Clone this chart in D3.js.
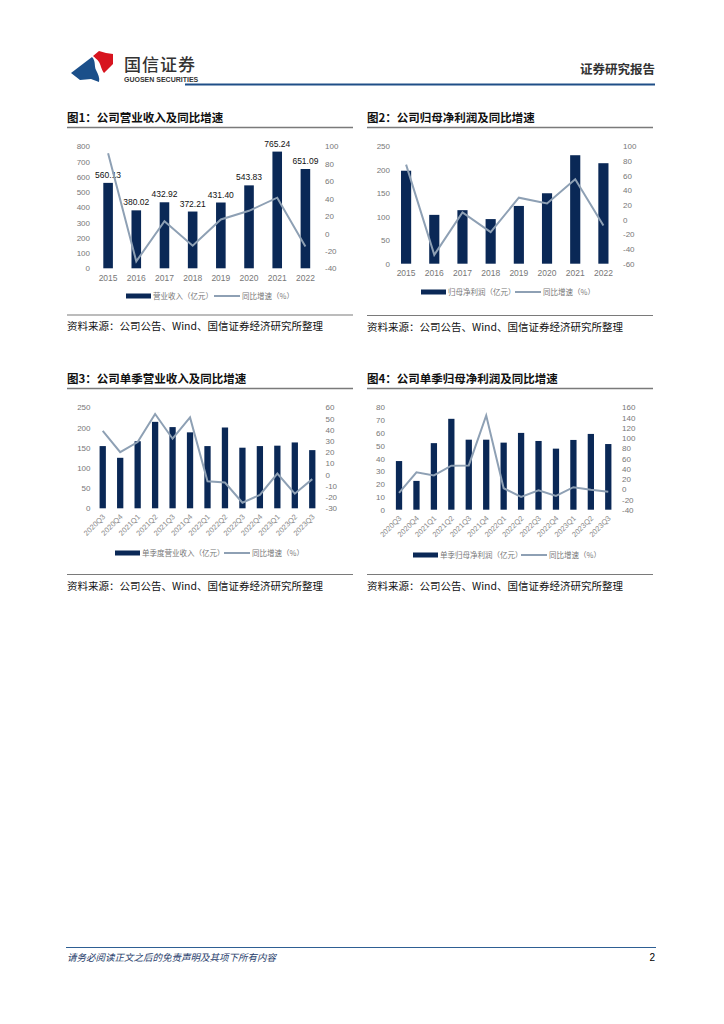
<!DOCTYPE html>
<html><head><meta charset="utf-8">
<script src="https://cdn.jsdelivr.net/npm/d3@7"></script>
<style>
html,body{margin:0;padding:0;background:#fff;}
svg{display:block;}
</style></head>
<body>
<svg id="page" width="724" height="1024"></svg>
<script>
// ---------- data ----------
const years = ['2015','2016','2017','2018','2019','2020','2021','2022'];
const revenue = [560.13, 380.02, 432.92, 372.21, 431.40, 543.83, 765.24, 651.09];
const revenueGrowth = [92, -32, 14, -14, 16, 26, 41, -15];
const profit = [198, 104, 114, 95, 123, 150, 231, 214];
const profitGrowth = [75, -48, 10, -17, 30, 22, 55, -8];
const quarters = ['2020Q3','2020Q4','2021Q1','2021Q2','2021Q3','2021Q4','2022Q1','2022Q2','2022Q3','2022Q4','2023Q1','2023Q2','2023Q3'];
const qRevenue = [154, 125, 166, 214, 201, 188, 154, 200, 150, 154, 155, 163, 144];
const qRevenueGrowth = [39, 20, 29, 54, 32, 51, -6, -7, -25, -18, 1, -17, -4];
const qProfit = [38, 22.5, 52, 71, 54.7, 54.7, 52.4, 60, 53.7, 47.7, 54.5, 59.2, 51.3];
const qProfitGrowth = [-7, 33, 27, 46, 46.5, 144, 2, -15, -2, -13, 4, -1, -5];

const leftTicks1 = [0,100,200,300,400,500,600,700,800];
const rightTicks1 = [-40,-20,0,20,40,60,80,100];
const leftTicks2 = [0,50,100,150,200,250];
const rightTicks2 = [-60,-40,-20,0,20,40,60,80,100];
const leftTicks3 = [0,50,100,150,200,250];
const rightTicks3 = [-30,-20,-10,0,10,20,30,40,50,60];
const leftTicks4 = [0,10,20,30,40,50,60,70,80];
const rightTicks4 = [-40,-20,0,20,40,60,80,100,120,140,160];

const titles = ['图1：公司营业收入及同比增速','图2：公司归母净利润及同比增速','图3：公司单季营业收入及同比增速','图4：公司单季归母净利润及同比增速'];
const barNames = ['营业收入（亿元）','归母净利润（亿元）','单季度营业收入（亿元）','单季归母净利润（亿元）'];
const lineName = '同比增速（%）';
const sourceText = '资料来源：公司公告、Wind、国信证券经济研究所整理';

// ---------- style ----------
const NAVY = '#0a2856';
const LINEC = '#8ea0b4';
const AXC = '#777777';
const CJK = "'Noto Sans CJK SC','Noto Sans',sans-serif";
const LAT = "'Liberation Sans',Arial,sans-serif";

const svg = d3.select('#page');

// ---------- header ----------
const hdr = svg.append('g');
hdr.append('path').attr('d','M71,73 L92,57 C96,61 94,66 96,70 C98,74 100,78 99,82 L91,79 L80,80 Z').attr('fill','#1b4f8a');
hdr.append('path').attr('d','M93,56 L99,51 L106,53 L113,54 L113,64 L104,73 C101,69 101,65 99,62 C97,59 95,58 93,56 Z').attr('fill','#d7141f');
hdr.append('text').attr('x',124).attr('y',71).attr('font-family',CJK).attr('font-size',17).attr('font-weight',500).attr('fill','#333').attr('letter-spacing',1).text('国信证券');
hdr.append('text').attr('x',124).attr('y',82).attr('font-family',LAT).attr('font-size',7).attr('font-weight','bold').attr('fill','#333').text('GUOSEN SECURITIES');
hdr.append('line').attr('x1',185).attr('x2',655).attr('y1',84.5).attr('y2',84.5).attr('stroke','#1f4e87').attr('stroke-width',2);
hdr.append('text').attr('x',655).attr('y',74).attr('text-anchor','end').attr('font-family',CJK).attr('font-size',12.5).attr('font-weight','bold').attr('fill','#333').text('证券研究报告');

// ---------- footer ----------
svg.append('line').attr('x1',66).attr('x2',656).attr('y1',947.5).attr('y2',947.5).attr('stroke','#2e5f93').attr('stroke-width',1);
svg.append('text').attr('x',67).attr('y',961).attr('font-family',CJK).attr('font-size',9.5).attr('font-style','italic').attr('fill','#1f3d6b').text('请务必阅读正文之后的免责声明及其项下所有内容');
svg.append('text').attr('x',655).attr('y',961).attr('text-anchor','end').attr('font-family',LAT).attr('font-size',10).attr('fill','#000').text('2');

const fmt = d => String(d);

// ---------- chart function ----------
function drawChart(o){
  const g = svg.append('g');
  g.append('text').attr('x',o.panelX).attr('y',o.titleY).attr('font-family',CJK).attr('font-size',11.5).attr('font-weight','bold').attr('fill','#111').text(o.title);
  g.append('line').attr('x1',o.panelX).attr('x2',o.panelX+286).attr('y1',o.titleY+5.5).attr('y2',o.titleY+5.5).attr('stroke','#7a7a7a').attr('stroke-width',1.3);

  const x = d3.scaleBand().domain(o.cats).range([o.x0,o.x1]).paddingInner(o.pad).paddingOuter(o.pad/2);
  const yL = d3.scaleLinear().domain(d3.extent(o.lTicks)).range([o.yB,o.yT]);
  const yR = d3.scaleLinear().domain(d3.extent(o.rTicks)).range([o.yB,o.yT]);

  const la = g.append('g').attr('transform',`translate(${o.lx},0)`)
    .call(d3.axisLeft(yL).tickValues(o.lTicks).tickFormat(fmt).tickSize(0).tickPadding(0));
  la.select('.domain').remove();
  la.selectAll('text').attr('font-family',LAT).attr('font-size',8).attr('fill',AXC);
  const ra = g.append('g').attr('transform',`translate(${o.rx},0)`)
    .call(d3.axisRight(yR).tickValues(o.rTicks).tickFormat(fmt).tickSize(0).tickPadding(0));
  ra.select('.domain').remove();
  ra.selectAll('text').attr('font-family',LAT).attr('font-size',8).attr('fill',AXC);

  g.selectAll('rect.bar').data(o.bars).join('rect').attr('class','bar')
    .attr('x',(d,i)=>x(o.cats[i])).attr('width',x.bandwidth())
    .attr('y',d=>yL(d)).attr('height',d=>o.yB-yL(d)).attr('fill',NAVY);

  if(o.showValues){
    g.selectAll('text.val').data(o.bars).join('text').attr('class','val')
      .attr('x',(d,i)=>x(o.cats[i])+x.bandwidth()/2).attr('y',d=>yL(d)-5)
      .attr('text-anchor','middle').attr('font-family',LAT).attr('font-size',8.5).attr('fill','#111')
      .text(d=>d.toFixed(2));
  }

  const line = d3.line().x((d,i)=>x(o.cats[i])+x.bandwidth()/2).y(d=>yR(d));
  g.append('path').datum(o.line).attr('d',line).attr('fill','none').attr('stroke',LINEC).attr('stroke-width',2).attr('stroke-linejoin','miter');

  const xa = g.append('g').attr('transform',`translate(0,${o.yB})`)
    .call(d3.axisBottom(x).tickSize(0).tickPadding(0));
  xa.select('.domain').remove();
  if(o.rotate){
    xa.selectAll('text').attr('font-family',LAT).attr('font-size',7.5).attr('fill','#8a8a8a')
      .attr('text-anchor','end').attr('dy',0).attr('y',0)
      .attr('transform','translate(3,9) rotate(-45)');
  } else {
    xa.selectAll('text').attr('font-family',LAT).attr('font-size',8.5).attr('fill',AXC).attr('dy',0).attr('y',o.xlabDy);
  }

  const lg = g.append('g');
  lg.append('rect').attr('x',o.legX).attr('y',o.legY-2.5).attr('width',25).attr('height',5).attr('fill',NAVY);
  lg.append('text').attr('x',o.legX+27).attr('y',o.legY+3).attr('font-family',CJK).attr('font-size',7.5).attr('fill',AXC).text(o.barName);
  lg.append('line').attr('x1',o.legX2).attr('x2',o.legX2+26).attr('y1',o.legY).attr('y2',o.legY).attr('stroke',LINEC).attr('stroke-width',2);
  lg.append('text').attr('x',o.legX2+28).attr('y',o.legY+3).attr('font-family',CJK).attr('font-size',7.5).attr('fill',AXC).text(lineName);

  g.append('line').attr('x1',o.panelX).attr('x2',o.panelX+286).attr('y1',o.srcLineY).attr('y2',o.srcLineY).attr('stroke','#7a7a7a').attr('stroke-width',1.2);
  g.append('text').attr('x',o.panelX).attr('y',o.srcLineY+15).attr('font-family',CJK).attr('font-size',10.5).attr('fill','#111').text(sourceText);
}

drawChart({panelX:67,titleY:122,title:titles[0],cats:years,bars:revenue,line:revenueGrowth,lTicks:leftTicks1,rTicks:rightTicks1,
  x0:94,x1:319.5,pad:0.66,yT:146.3,yB:268.3,lx:90,rx:325,showValues:true,rotate:false,xlabDy:12.5,
  legX:126,legX2:214,legY:296,barName:barNames[0],srcLineY:315});
drawChart({panelX:367,titleY:122,title:titles[1],cats:years,bars:profit,line:profitGrowth,lTicks:leftTicks2,rTicks:rightTicks2,
  x0:392,x1:617.5,pad:0.64,yT:146.3,yB:263.7,lx:390,rx:623,showValues:false,rotate:false,xlabDy:12.5,
  legX:421,legX2:515,legY:292,barName:barNames[1],srcLineY:315.5});
drawChart({panelX:67,titleY:383,title:titles[2],cats:quarters,bars:qRevenue,line:qRevenueGrowth,lTicks:leftTicks3,rTicks:rightTicks3,
  x0:94,x1:321,pad:0.64,yT:407.3,yB:508.3,lx:90.5,rx:325.5,showValues:false,rotate:true,
  legX:115,legX2:224,legY:553,barName:barNames[2],srcLineY:574.5});
drawChart({panelX:367,titleY:383,title:titles[3],cats:quarters,bars:qProfit,line:qProfitGrowth,lTicks:leftTicks4,rTicks:rightTicks4,
  x0:390.3,x1:617,pad:0.64,yT:407.3,yB:509.7,lx:385,rx:622,showValues:false,rotate:true,
  legX:413,legX2:521,legY:555,barName:barNames[3],srcLineY:574.5});
</script>
</body></html>
